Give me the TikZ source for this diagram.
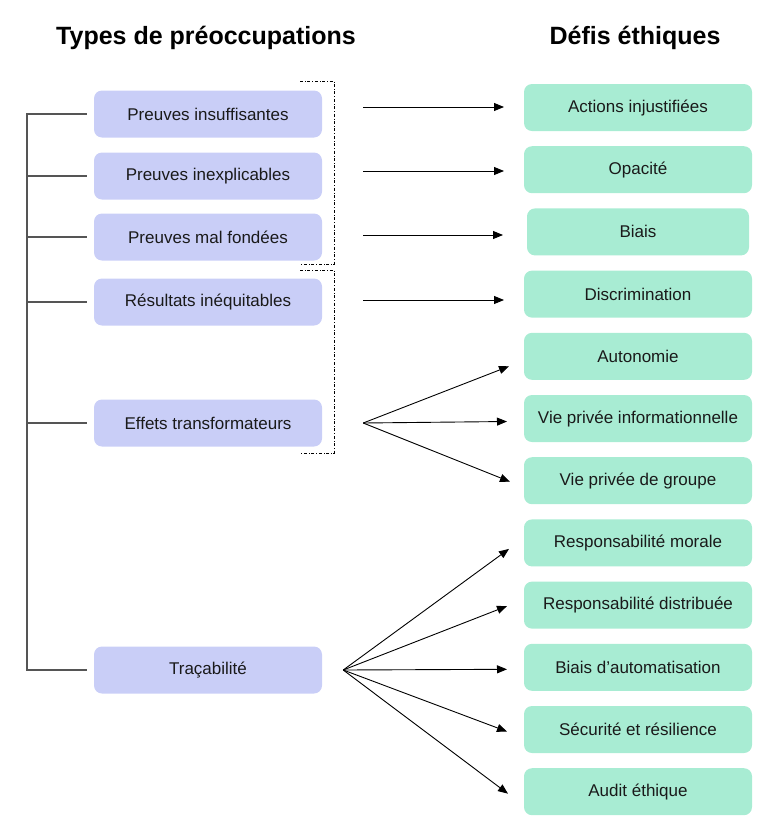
\documentclass[tikz,border=0pt]{standalone}
\usepackage{fontspec}
\setmainfont{Liberation Sans}
\usepackage{tikz}
\usetikzlibrary{matrix,arrows.meta}
\definecolor{concernfill}{RGB}{201,206,247}
\definecolor{defifill}{RGB}{168,236,211}
\definecolor{treegray}{RGB}{85,85,85}
\definecolor{textdark}{RGB}{26,26,26}

\begin{document}
\begin{tikzpicture}[x=1pt,y=-1pt,font=\fontsize{17}{20}\selectfont,
concern/.style={fill=concernfill, rounded corners=8pt, minimum width=228pt,
    minimum height=47pt, text=textdark},
array/.style={matrix of nodes, inner sep=0pt, outer sep=0pt,
    nodes={fill=defifill, rounded corners=8pt, inner sep=0.3333em,
    minimum width=228pt, minimum height=47pt, anchor=center, text=textdark},
    row sep=15.2pt},
title/.style={font=\fontsize{25}{30}\selectfont\bfseries},
tree/.style={draw=treegray, line width=1.5pt},
arr/.style={-{Triangle[length=10pt,width=8pt]}, line width=0.9pt},
bracket/.style={dash dot, line width=0.8pt}]
\useasboundingbox (0,0) rectangle (780,838);

\node[title] (titreA) at (206,38) {Types de préoccupations};
\node[title] (titreB) at (635,38) {Défis éthiques};

\node[concern] (preuve1) at (208,114) {Preuves insuffisantes};
\node[concern] (preuve2) at (208,176) {Preuves inexplicables};
\node[concern] (preuve3) at (208,237) {Preuves mal fondées};
\node[concern] (resultats) at (208,302) {Résultats inéquitables};
\node[concern] (effets) at (208,423) {Effets transformateurs};
\node[concern] (tracabilite) at (208,670) {Traçabilité};

\matrix[array, anchor=north west] (defis) at (524,84) {
Actions injustifiées\\
Opacité\\
|[minimum width=222pt]| Biais\\
Discrimination\\
Autonomie\\
Vie privée informationnelle\\
Vie privée de groupe\\
Responsabilité morale\\
Responsabilité distribuée\\
Biais d’automatisation\\
Sécurité et résilience\\
Audit éthique\\};

% arbre a gauche
\draw[tree] ([xshift=-7pt]preuve1.west) -| ([xshift=-67pt]tracabilite.west)
  -- ([xshift=-7pt]tracabilite.west);
\foreach \n in {preuve2,preuve3,resultats,effets}
  \draw[tree] ([xshift=-7pt]\n.west) -- ++(-60,0);

% accolades pointillees
\draw[bracket] (300,81) -| (334,264) -- (300,264);
\draw[bracket] (300,270) -| (334,453) -- (300,453);

% fleches simples
\coordinate (src1) at (363,107);
\coordinate (src2) at (363,171);
\coordinate (src3) at (363,235);
\coordinate (src4) at (363,300);
\draw[arr, shorten >=20pt] (src1) -- (src1 -| defis-1-1.west);
\draw[arr, shorten >=20pt] (src2) -- (src2 -| defis-2-1.west);
\draw[arr, shorten >=24pt] (src3) -- (src3 -| defis-3-1.west);
\draw[arr, shorten >=20pt] (src4) -- (src4 -| defis-4-1.west);

% eventails
\coordinate (fanA) at ([xshift=41pt]effets.east);
\coordinate (fanB) at ([xshift=21pt]tracabilite.east);
\foreach \r/\dx/\dy in {5/-15/-10, 6/-17/-3, 7/-14/-1}
  \draw[arr] (fanA) -- ([xshift=\dx pt,yshift=\dy pt]defis-\r-1.west);
\foreach \r/\dx/\dy in {8/-15/-6, 9/-17/-1, 10/-17/-2, 11/-17/-2, 12/-16/-2}
  \draw[arr] (fanB) -- ([xshift=\dx pt,yshift=\dy pt]defis-\r-1.west);
\end{tikzpicture}
\end{document}
